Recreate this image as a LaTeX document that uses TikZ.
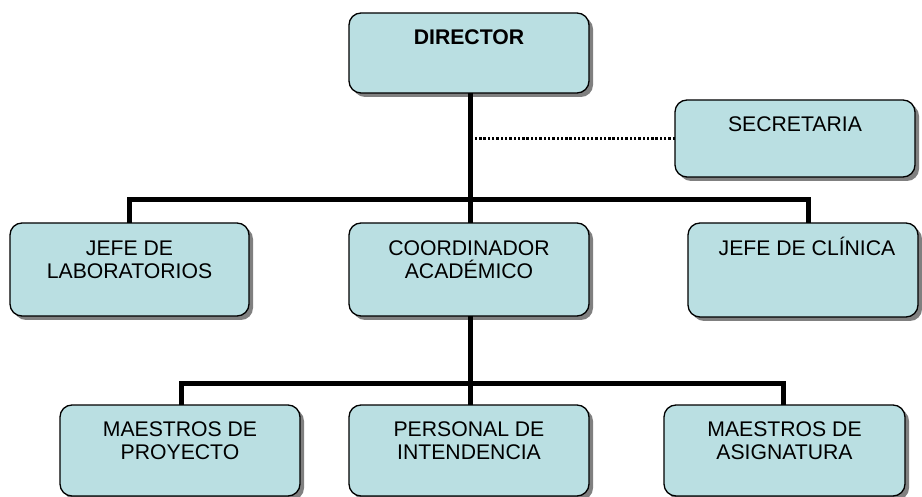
\documentclass[tikz,border=0pt]{standalone}
\usepackage{fontspec}
\setmainfont{Liberation Sans}
\usetikzlibrary{shadows}
\definecolor{boxfill}{RGB}{186,223,226}
\tikzset{
  orgbox/.style={draw=black, line width=1.3pt, fill=boxfill, rounded corners=12pt,
    inner sep=0pt, outer sep=0pt,
    general shadow={fill=black!50, shadow xshift=4pt, shadow yshift=-4pt}},
  lbl/.style={anchor=north, inner sep=0pt, align=center,
    font={\fontsize{21.2}{23.5}\selectfont}},
  conn/.style={line width=5pt, line join=miter},
  dotline/.style={line width=3.2pt, dash pattern=on 2.4pt off 1.9pt}
}
\newcommand{\firstline}{\rule{0pt}{20pt}}
\begin{document}
\begin{tikzpicture}[x=1pt, y=-1pt]
\useasboundingbox (0,0) rectangle (922,497);
\coordinate (bus1) at (470,200);
\coordinate (bus2) at (470,383);
% boxes
\node[orgbox, minimum width=240pt, minimum height=80pt] (dir) at (469,53) {};
\node[orgbox, minimum width=240pt, minimum height=77pt] (sec) at (795,138.5) {};
\node[orgbox, minimum width=239pt, minimum height=93pt] (lab) at (129.5,269.5) {};
\node[orgbox, minimum width=240pt, minimum height=93pt] (coord) at (469,269.5) {};
\node[orgbox, minimum width=230pt, minimum height=94pt] (clin) at (803,270) {};
\node[orgbox, minimum width=240pt, minimum height=91pt] (proy) at (180,450.5) {};
\node[orgbox, minimum width=240pt, minimum height=91pt] (pers) at (469,450.5) {};
\node[orgbox, minimum width=241pt, minimum height=91pt] (asig) at (784.5,450.5) {};
% lines
\draw[conn] ([xshift=1pt]dir.south) -- ([xshift=1pt]coord.north);
\draw[conn] (lab.north) |- (bus1) -| ([xshift=5pt]clin.north);
\draw[conn] ([xshift=1pt]coord.south) -- ([xshift=1pt]pers.north);
\draw[conn] ([xshift=1pt]proy.north) |- (bus2) -| ([xshift=-1.5pt]asig.north);
\draw[dotline] (sec.west) -- (sec.west -| bus1);
% texts
\node[lbl, font={\fontsize{21.2}{23.5}\selectfont\bfseries}] (dirT) at ([yshift=-11pt]dir.north) {\firstline DIRECTOR};
\node[lbl] (secT) at ([yshift=-11pt]sec.north) {\firstline SECRETARIA};
\node[lbl] (labT) at ([yshift=-12pt]lab.north) {\firstline JEFE DE\\LABORATORIOS};
\node[lbl] (coordT) at ([yshift=-12pt]coord.north) {\firstline COORDINADOR\\ACADÉMICO};
\node[lbl] (clinT) at ([xshift=4pt,yshift=-12pt]clin.north) {\firstline JEFE DE CLÍNICA};
\node[lbl] (proyT) at ([yshift=-11pt]proy.north) {\firstline MAESTROS DE\\PROYECTO};
\node[lbl] (persT) at ([yshift=-11pt]pers.north) {\firstline PERSONAL DE\\INTENDENCIA};
\node[lbl] (asigT) at ([yshift=-11pt]asig.north) {\firstline MAESTROS DE\\ASIGNATURA};
\end{tikzpicture}
\end{document}
